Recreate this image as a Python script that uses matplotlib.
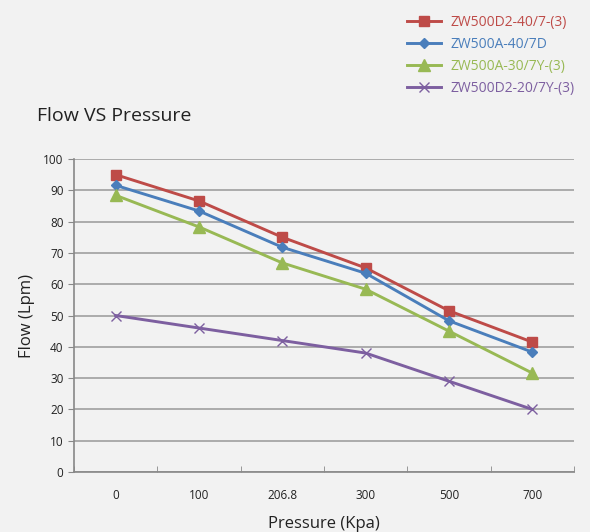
import numpy as np
import matplotlib.pyplot as plt

# data
pressure = ['0', '100', '206.8', '300', '500', '700']
zw500d2_40 = [95, 86.6, 75, 65.2, 51.5, 41.5]
zw500a_40 = [91.6, 83.4, 71.8, 63.5, 48.3, 38.3]
zw500a_30 = [88.4, 78.3, 66.8, 58.4, 45, 31.6]
zw500d2_20 = [50, 46, 42, 38, 29, 20]

names = ['ZW500D2-40/7-(3)', 'ZW500A-40/7D', 'ZW500A-30/7Y-(3)', 'ZW500D2-20/7Y-(3)']
colors = ['#be4b48', '#4a7ebb', '#98b954', '#7d5fa0']
markers = ['s', 'D', '^', 'x']
msizes = [7.5, 5.5, 8, 7]

plt.rcParams['font.family'] = ['Open Sans', 'DejaVu Sans']

fig = plt.figure(figsize=(5.9, 5.32), dpi=100)
fig.patch.set_facecolor('#f2f2f2')
ax = fig.add_axes([0.1254, 0.1128, 0.8475, 0.5883])
ax.set_facecolor('#f2f2f2')

x = np.arange(len(pressure))
series = [zw500d2_40, zw500a_40, zw500a_30, zw500d2_20]
handles = []
for s, n, c, m, ms in zip(series, names, colors, markers, msizes):
    h, = ax.plot(x, s, color=c, lw=2.1, marker=m, markersize=ms,
                 markeredgewidth=1, label=n, zorder=3)
    handles.append(h)

ax.set_ylim(0, 100)
ax.set_yticks(range(0, 101, 10))
ax.set_xlim(-0.5, 5.5)
ax.set_xticks(x)
ax.set_xticklabels(pressure)
ax.set_xticks(np.arange(-0.5, 5.6, 1), minor=True)
ax.tick_params(axis='x', which='major', length=0, pad=12, labelsize=8.5, colors='#222222')
ax.tick_params(axis='x', which='minor', direction='in', length=4, color='#888888')
ax.tick_params(axis='y', length=4, color='#888888', labelsize=8.5, colors='#222222')
ax.grid(axis='y', color='#a0a0a0', lw=1.2)
ax.set_axisbelow(True)
for sp in ['top', 'right']:
    ax.spines[sp].set_visible(False)
for sp in ['left', 'bottom']:
    ax.spines[sp].set_color('#888888')
    ax.spines[sp].set_linewidth(1.2)

ax.set_xlabel('Pressure (Kpa)', fontsize=12, labelpad=10, color='#222222')
ax.set_ylabel('Flow (Lpm)', fontsize=12, labelpad=6, color='#222222')
fig.text(0.063, 0.772, 'Flow VS Pressure', fontsize=14, color='#222222')

leg = fig.legend(handles=handles, loc='upper right', bbox_to_anchor=(0.995, 0.995),
                 frameon=False, fontsize=10, handlelength=2.4, labelspacing=0.5,
                 handletextpad=0.7)
for t, c in zip(leg.get_texts(), colors):
    t.set_color(c)

fig.savefig('out.png', dpi=100, facecolor=fig.get_facecolor())
